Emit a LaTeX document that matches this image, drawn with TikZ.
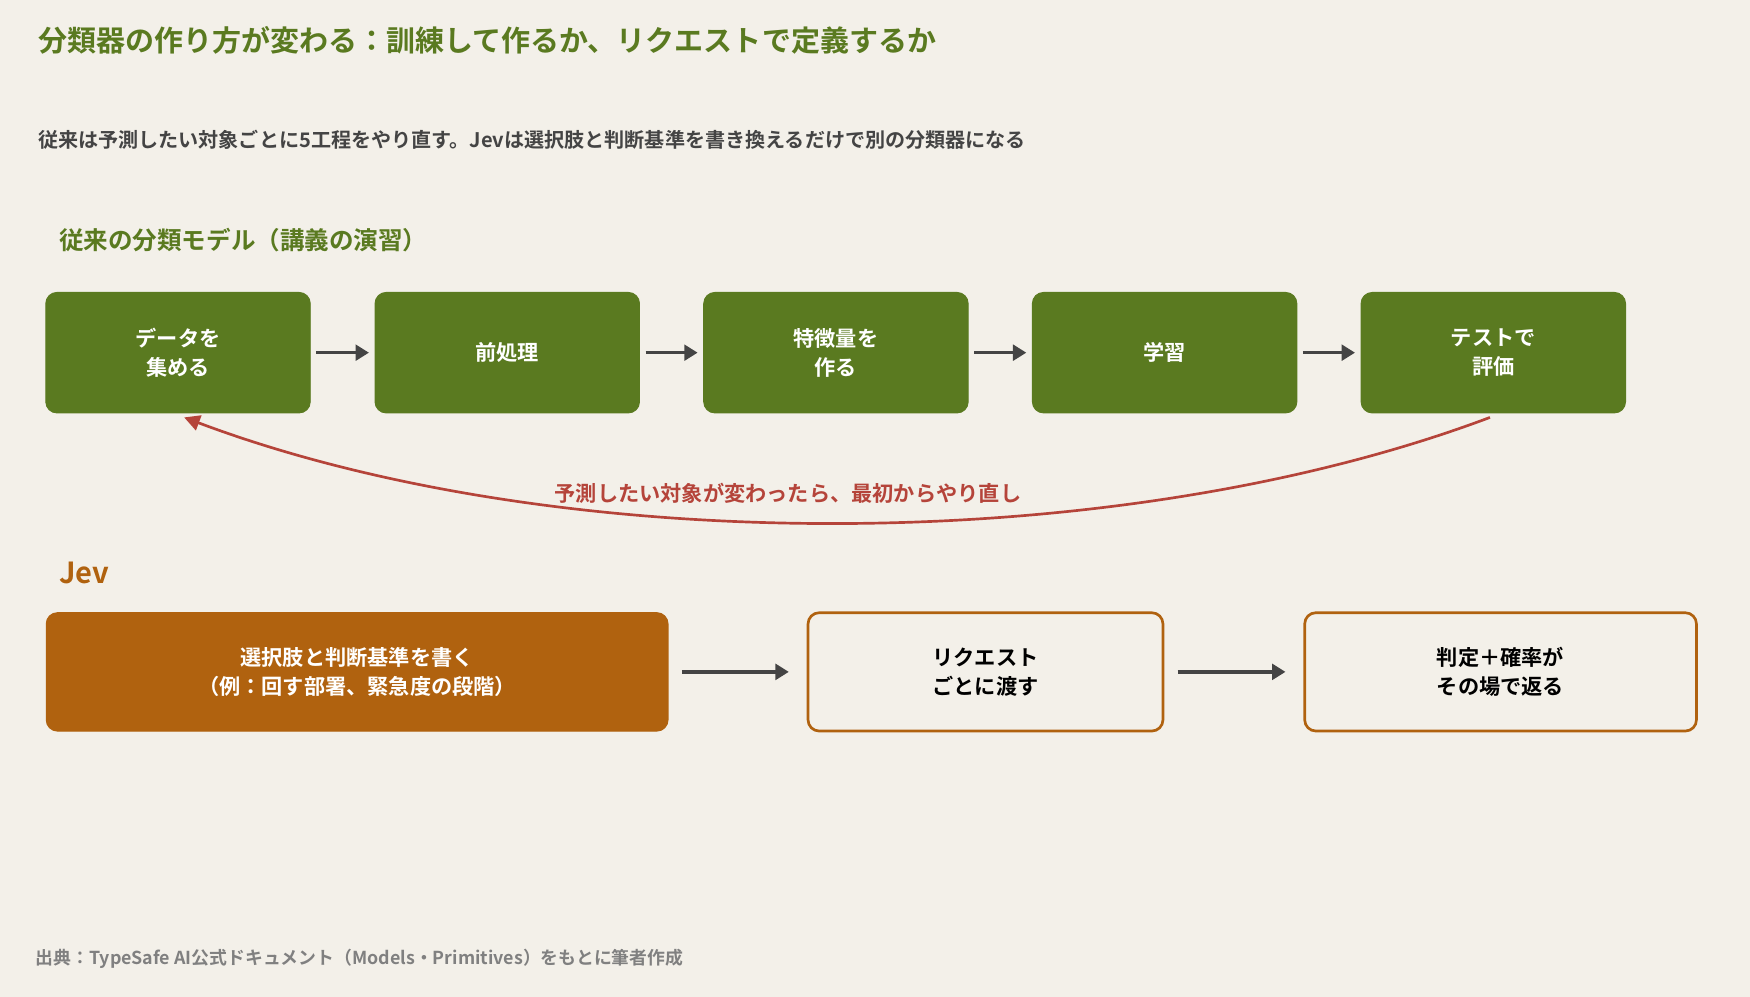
\documentclass[tikz,border=0pt]{standalone}
\usepackage{fontspec}
\setmainfont{Noto Sans CJK JP}[BoldFont={Noto Sans CJK JP Bold}]
\usetikzlibrary{positioning,arrows.meta}
\definecolor{bg}{HTML}{F3F0E9}
\definecolor{leaf}{HTML}{5A7A20}
\definecolor{rust}{HTML}{B0620F}
\definecolor{alarm}{HTML}{B5443A}
\definecolor{ink}{HTML}{444444}
\tikzset{
  stage/.style={draw=leaf, fill=leaf, rounded corners=5pt, minimum width=118.5pt, minimum height=54pt, text=white, font=\bfseries\fontsize{9.5}{13}\selectfont, align=center},
  jevstage/.style={draw=rust, line width=1.2pt, fill=bg, rounded corners=5pt, minimum height=53pt, text=black, font=\bfseries\fontsize{9.5}{13}\selectfont, align=center},
  flow/.style={-{Triangle[length=6pt,width=7pt]}, draw=ink, line width=1.6pt}
}
\begin{document}
\begin{tikzpicture}[x=0.5pt,y=-0.5pt]
    \useasboundingbox[fill=bg] (0,0) rectangle (1568,893);

    % Headings
    \node (title) at (27,36) [anchor=west, text=leaf, font=\bfseries\fontsize{13}{15}\selectfont] {分類器の作り方が変わる：訓練して作るか、リクエストで定義するか};
    \node (lead) at (27,125) [anchor=west, text=ink, font=\bfseries\fontsize{9}{11}\selectfont] {従来は予測したい対象ごとに5工程をやり直す。Jevは選択肢と判断基準を書き換えるだけで別の分類器になる};
    \node (oldlabel) at (46,215) [anchor=west, text=leaf, font=\bfseries\fontsize{11}{13}\selectfont] {従来の分類モデル（講義の演習）};

    % Old pipeline
    \node (collect) at (159.5,316) [stage] {データを\\集める};
    \node (prep) at (454.5,316) [stage] {前処理};
    \node (feat) at (749,316) [stage] {特徴量を\\作る};
    \node (train) at (1043.5,316) [stage] {学習};
    \node (test) at (1338,316) [stage] {テストで\\評価};
    \draw[flow] ([xshift=2.5pt]collect.east) -- ([xshift=-2.5pt]prep.west);
    \draw[flow] ([xshift=2.5pt]prep.east) -- ([xshift=-2.5pt]feat.west);
    \draw[flow] ([xshift=2.5pt]feat.east) -- ([xshift=-2.5pt]train.west);
    \draw[flow] ([xshift=2.5pt]train.east) -- ([xshift=-2.5pt]test.west);

    % Restart loop
    \coordinate (loopstart) at (1335,374);
    \coordinate (loopend) at (165,374);
    \draw[alarm, line width=1.2pt, -{Triangle[length=7pt,width=7pt]}] (loopstart) .. controls (1000,500) and (500,500) .. (loopend);
    \node (restart) at (706,442) [text=alarm, font=\bfseries\fontsize{9.5}{11}\selectfont] {予測したい対象が変わったら、最初からやり直し};

    % Jev pipeline
    \node (jevlabel) at (46,513) [anchor=west, text=rust, font=\bfseries\fontsize{13}{15}\selectfont] {Jev};
    \node (define) at (320,602) [jevstage, fill=rust, text=white, line width=0.5pt, minimum width=278.5pt] {選択肢と判断基準を書く\\（例：回す部署、緊急度の段階）};
    \node (send) at (883,602) [jevstage, minimum width=159pt] {リクエスト\\ごとに渡す};
    \node (answer) at (1344.5,602) [jevstage, minimum width=175.5pt] {判定＋確率が\\その場で返る};
    \draw[flow] ([xshift=6pt]define.east) -- ([xshift=-8pt]send.west);
    \draw[flow] ([xshift=6pt]send.east) -- ([xshift=-8pt]answer.west);

    % Source
    \node (source) at (25,859) [anchor=west, text=gray, font=\bfseries\fontsize{8}{10}\selectfont] {出典：TypeSafe AI公式ドキュメント（Models・Primitives）をもとに筆者作成};
\end{tikzpicture}
\end{document}
